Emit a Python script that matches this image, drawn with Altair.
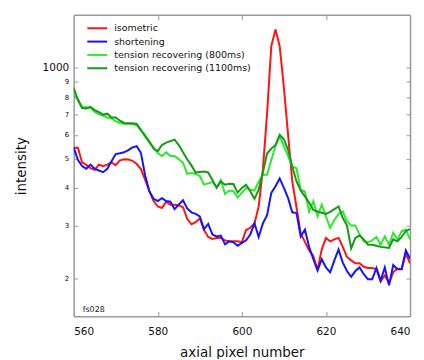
import altair as alt
import pandas as pd

# ---- data ----
x_pixel = list(range(560, 641))

isometric = [
    544, 544, 486, 477, 465, 459, 478, 472, 478, 486,
    476, 494, 498, 497, 492, 480, 462, 425, 390, 362,
    347, 343, 360, 352, 352, 350, 345, 316, 303, 308,
    317, 290, 275, 271, 273, 273, 268, 266, 266, 266,
    264, 290, 295, 305, 347, 460, 707, 1180, 1340, 1180,
    860, 600, 420, 345, 282, 265, 248, 238, 214, 250,
    273, 266, 270, 273, 255, 236, 230, 225, 225, 219,
    217, 217, 215, 196, 205, 193, 210, 216, 215, 242,
    225,
]

shortening = [
    544, 496, 473, 463, 478, 463, 457, 451, 463, 490,
    518, 521, 525, 534, 545, 550, 522, 440, 390, 368,
    362, 370, 362, 360, 340, 352, 364, 342, 332, 328,
    322, 292, 304, 280, 276, 278, 260, 266, 264, 257,
    263, 268, 280, 305, 275, 305, 325, 385, 405, 430,
    400, 370, 332, 330, 276, 291, 255, 232, 213, 232,
    218, 210, 230, 250, 226, 212, 203, 212, 218, 207,
    199, 199, 217, 197, 218, 190, 222, 215, 215, 248,
    233,
]

recovering_800 = [
    812, 790, 742, 741, 738, 715, 702, 695, 685, 680,
    665, 657, 653, 652, 652, 645, 622, 590, 565, 545,
    521, 510, 525, 510, 510, 498, 485, 445, 448, 445,
    438, 410, 414, 418, 403, 425, 382, 392, 390, 372,
    385, 400, 395, 392, 420, 442, 442, 495, 550, 595,
    550, 510, 470, 465, 394, 389, 334, 361, 322, 352,
    322, 295, 313, 328, 334, 310, 300, 300, 280, 266,
    264, 268, 275, 259, 276, 259, 284, 270, 287, 291,
    270,
]

recovering_1100 = [
    859, 782, 736, 734, 743, 725, 714, 700, 705, 685,
    685, 668, 657, 655, 655, 652, 622, 597, 570, 540,
    530, 555, 565, 572, 578, 555, 525, 498, 475, 450,
    452, 453, 450, 425, 400, 420, 410, 413, 412, 386,
    400, 410, 390, 368, 395, 450, 520, 540, 555, 600,
    580, 535, 470, 420, 392, 375, 358, 338, 334, 331,
    328, 333, 340, 347, 318, 300, 252, 273, 278, 270,
    259, 259, 257, 255, 254, 253, 270, 266, 275, 288,
    292,
]

series_names = [
    "isometric",
    "shortening",
    "tension recovering (800ms)",
    "tension recovering (1100ms)",
]
series_colors = ["#ff1414", "#1414ff", "#2ee82e", "#149a14"]
series_values = [isometric, shortening, recovering_800, recovering_1100]

x_ticks = [560, 580, 600, 620, 640]
x_inner_ticks = [580, 600, 620]
y_ticks = [200, 300, 400, 500, 600, 700, 800, 900, 1000]
annotation = ["fs028"]

rows = []
for name, vals in zip(series_names, series_values):
    for xv, yv in zip(x_pixel, vals):
        rows.append({"x": xv, "y": yv, "series": name, "order": series_names.index(name)})
df = pd.DataFrame(rows)

FONT = "DejaVu Sans"
AX = "#9a9a9a"

xscale = alt.Scale(domain=[560, 640], nice=False, zero=False)
yscale = alt.Scale(type="log", domain=[150, 1500], nice=False)

lines = alt.Chart(df).mark_line(strokeWidth=2, clip=True).encode(
    x=alt.X(
        "x:Q",
        scale=xscale,
        title="axial pixel number",
        axis=alt.Axis(
            values=x_ticks,
            grid=False,
            domainColor=AX,
            domainWidth=1.5,
            tickColor=AX,
            tickSize={"expr": "-5"},
            labelPadding=15,
            labelFont=FONT,
            labelFontSize=10.5,
            labelColor="#111",
            titleFont=FONT,
            titleFontSize=13.5,
            titleFontWeight="normal",
            titleColor="#111",
            titleY=40,
            titleBaseline="alphabetic",
        ),
    ),
    y=alt.Y(
        "y:Q",
        scale=yscale,
        title="intensity",
        axis=alt.Axis(
            values=y_ticks,
            grid=False,
            domainColor=AX,
            domainWidth=1.5,
            tickColor=AX,
            tickSize={"expr": "-4"},
            labelPadding=9,
            labelExpr="datum.value == 1000 ? '1000' : format(datum.value / 100, 'd')",
            labelFont=FONT,
            labelFontSize={"condition": {"test": "datum.value == 1000", "value": 10.5}, "value": 7},
            labelColor="#111",
            titleFont=FONT,
            titleFontSize=13.5,
            titleFontWeight="normal",
            titleColor="#111",
            titleX=-48,
            titleY=151.5,
            titleAngle=270,
            titleAlign="center",
            titleBaseline="alphabetic",
        ),
    ),
    color=alt.Color(
        "series:N",
        scale=alt.Scale(domain=series_names, range=series_colors),
        title=None,
        legend=alt.Legend(
            orient="none",
            legendX=17.7,
            legendY=7.5,
            padding=0,
            symbolType="M-2,0L2,0",
            symbolSize=100,
            symbolStrokeWidth=2,
            labelFont=FONT,
            labelFontSize=9.5,
            labelColor="#111",
            labelOffset=11,
            rowPadding=2.4,
        ),
    ),
    order=alt.Order("order:Q"),
)

frame = alt.Chart(df).mark_line(opacity=0).encode(
    x=alt.X(
        "x:Q",
        scale=xscale,
        title=None,
        axis=alt.Axis(
            orient="top",
            values=x_inner_ticks,
            labels=False,
            grid=False,
            domainColor=AX,
            domainWidth=1.5,
            tickColor=AX,
            tickSize={"expr": "-5"},
        ),
    ),
    y=alt.Y(
        "y:Q",
        scale=yscale,
        title=None,
        axis=alt.Axis(
            orient="right",
            values=y_ticks,
            labels=False,
            grid=False,
            domainColor=AX,
            domainWidth=1.5,
            tickColor=AX,
            tickSize={"expr": "-4"},
        ),
    ),
)

note = alt.Chart(pd.DataFrame({"t": annotation})).mark_text(
    align="left", baseline="middle", font=FONT, fontSize=8, color="#222"
).encode(x=alt.value(9), y=alt.value(297), text="t:N")

chart = (
    alt.layer(frame, lines, note)
    .resolve_axis(x="independent", y="independent")
    .properties(
        width=338,
        height=303,
        autosize=alt.AutoSizeParams(type="none"),
        padding={"left": 66, "top": 6, "right": 6, "bottom": 42},
    )
    .configure_view(stroke=None)
)

chart.save("out.html", embed_options={"renderer": "svg", "actions": False})
